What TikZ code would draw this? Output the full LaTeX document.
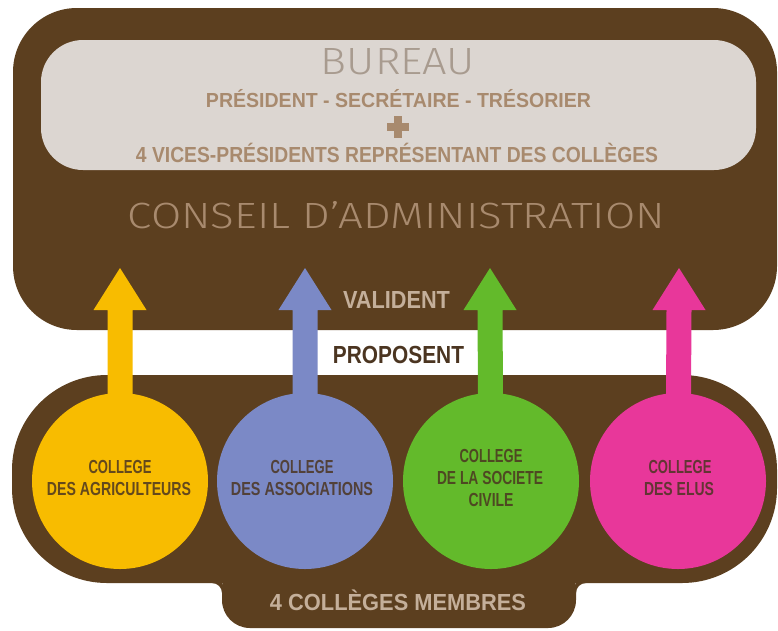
\documentclass[tikz,border=0pt]{standalone}
\usepackage{fontspec}
\usepackage{graphicx}
\usetikzlibrary{calc}
\newfontfamily\thinf{Fira Sans Light}
\newfontfamily\condf{Liberation Sans}
\definecolor{brn}{HTML}{5C3F1F}
\definecolor{lightbox}{HTML}{DCD6D1}
\definecolor{greytan}{HTML}{A89B8F}
\definecolor{tan}{HTML}{A88A6E}
\definecolor{paletan}{HTML}{C4AF9A}
\definecolor{darktxt}{HTML}{4B3521}
\definecolor{cyellow}{HTML}{F8BC00}
\definecolor{cblue}{HTML}{7B89C6}
\definecolor{cgreen}{HTML}{63BA2B}
\definecolor{cpink}{HTML}{E8379A}
\newcommand\fitt[4]{\resizebox{#1pt}{#2pt}{#3\smash{#4}\vphantom{X}}}
\newcommand\bc{\condf\bfseries}
\begin{document}
\begin{tikzpicture}[x=1pt,y=-1pt,
  txt/.style={anchor=base,inner sep=0pt,outer sep=0pt},
  panel/.style={fill=brn,draw=none,inner sep=0pt,outer sep=0pt},
  college/.style={circle,minimum size=176pt,inner sep=0pt,outer sep=0pt,draw=none},
  clabel/.style={txt,text=darktxt,text opacity=0.85}]
\useasboundingbox (0,0) rectangle (778,630);
\fill[white] (0,0) rectangle (778,630);
% panels
\node[panel,rounded corners=64pt,minimum width=764pt,minimum height=322pt] (ca) at (395,169) {};
\node[fill=lightbox,draw=none,inner sep=0pt,outer sep=0pt,rounded corners=42pt,minimum width=715pt,minimum height=130pt] (bur) at (398.5,105) {};
\node[panel,rounded corners=95pt,minimum width=765pt,minimum height=208pt] (cm) at (394.5,479) {};
\node[panel,rounded corners=28pt,minimum width=354pt,minimum height=68pt] (tab) at (399,594) {};
\fill[brn] (212,583) -- (222,583) -- (222,593) .. controls (222,587.5) and (217.5,583) .. (212,583) -- cycle;
\fill[brn] (586,583) -- (576,583) -- (576,593) .. controls (576,587.5) and (580.5,583) .. (586,583) -- cycle;
% arrow tips
\coordinate (t1) at (120,268);
\coordinate (t2) at (305,268);
\coordinate (t3) at (490,268);
\coordinate (t4) at (679,268);
% circles (positions)
\path (120,481) coordinate (p1) (305,481) coordinate (p2) (491,481) coordinate (p3) (678,481) coordinate (p4);
% arrows
\foreach \i/\c in {1/cyellow,2/cblue,3/cgreen,4/cpink}{
  \fill[\c] ($(p\i)+(-12.5,0)$) -- ($(t\i)+(-12.5,42)$) -- ($(t\i)+(-26.5,42)$) -- (t\i)
     -- ($(t\i)+(26.5,42)$) -- ($(t\i)+(12.5,42)$) -- ($(p\i)+(12.5,0)$) -- cycle;
}
\node[college,fill=cyellow] (c1) at (p1) {};
\node[college,fill=cblue] (c2) at (p2) {};
\node[college,fill=cgreen] (c3) at (p3) {};
\node[college,fill=cpink] (c4) at (p4) {};
% bureau texts
\node[txt,text=greytan] (tbur) at (398,74) {\fitt{154}{26}{\thinf}{BUREAU}};
\node[txt,text=tan] (tpres) at (398.5,107) {\fitt{385}{14}{\bc}{PRÉSIDENT - SECRÉTAIRE - TRÉSORIER}};
\fill[tan] (394,116) rectangle (402,138);
\fill[tan] (387,123) rectangle (409,131);
\node[txt,text=tan] (tvp) at (397,162) {\fitt{522}{15}{\bc}{4 VICES-PRÉSIDENTS REPRÉSENTANT DES COLLÈGES}};
\node[txt,text=tan] (tca) at (396.5,228) {\fitt{537}{25}{\thinf}{CONSEIL D’ADMINISTRATION}};
\node[txt,text=paletan] (tval) at (396.5,308) {\fitt{107}{17}{\bc}{VALIDENT}};
\node[txt,text=darktxt] (tprop) at (398.5,363) {\fitt{131}{17}{\bc}{PROPOSENT}};
\node[txt,text=paletan] (tmem) at (398,610) {\fitt{256}{16}{\bc}{4 COLLÈGES MEMBRES}};
% circle labels
\node[clabel] (l1a) at (120,473) {\fitt{63}{13}{\bc}{COLLEGE}};
\node[clabel] (l1b) at (119,495) {\fitt{144}{13}{\bc}{DES AGRICULTEURS}};
\node[clabel] (l2a) at (302,473) {\fitt{63}{13}{\bc}{COLLEGE}};
\node[clabel] (l2b) at (302,495) {\fitt{142}{13}{\bc}{DES ASSOCIATIONS}};
\node[clabel] (l3a) at (491,462) {\fitt{63}{13}{\bc}{COLLEGE}};
\node[clabel] (l3b) at (490,484) {\fitt{106}{13}{\bc}{DE LA SOCIETE}};
\node[clabel] (l3c) at (491,506) {\fitt{45}{13}{\bc}{CIVILE}};
\node[clabel] (l4a) at (680,473) {\fitt{63}{13}{\bc}{COLLEGE}};
\node[clabel] (l4b) at (679,495) {\fitt{70}{13}{\bc}{DES ELUS}};
\end{tikzpicture}
\end{document}
